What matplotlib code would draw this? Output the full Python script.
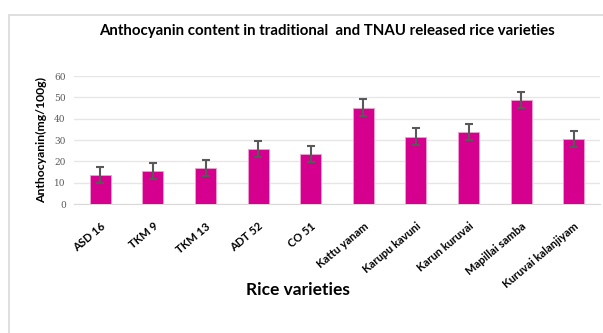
import matplotlib
matplotlib.use("Agg")
import matplotlib.pyplot as plt
from matplotlib.patches import Rectangle
import numpy as np

varieties = ["ASD 16", "TKM 9", "TKM 13", "ADT 52", "CO 51", "Kattu yanam",
             "Karupu kavuni", "Karun kuruvai", "Mapillai samba", "Kuruvai kalanjiyam"]
anthocyanin = [13.7, 15.6, 16.8, 25.8, 23.5, 45.2, 31.6, 33.6, 48.7, 30.5]
errors = [3.7, 3.7, 3.7, 3.7, 3.7, 3.8, 3.8, 3.8, 3.7, 3.8]
y_ticks = [0, 10, 20, 30, 40, 50, 60]

plt.rcParams["font.family"] = ["Lato", "DejaVu Sans"]

fig = plt.figure(figsize=(6.03, 3.33), dpi=100)
fig.patch.set_facecolor("white")

# light chart border, running off the right/bottom edges
fig.patches.append(Rectangle((9 / 603, -0.1), 1.2, 1 - 15 / 333 + 0.1,
                             transform=fig.transFigure, fill=False,
                             edgecolor="#d9d9d9", linewidth=1.2))

ax = fig.add_axes([74 / 603, 1 - 204 / 333, (600 - 74) / 603, (204 - 76) / 333])
x = np.arange(len(varieties))
ax.bar(x, anthocyanin, width=0.4, color="#d6008f", edgecolor="#f0a0d0",
       linewidth=0.6, zorder=3)
ax.errorbar(x, anthocyanin, yerr=errors, fmt="none", ecolor="#595959",
            elinewidth=1.5, capsize=3, capthick=1.5, zorder=4)

ax.set_xlim(-0.5, len(varieties) - 0.5)
ax.set_ylim(0, 60)
ax.set_yticks(y_ticks)
ax.set_yticklabels([str(t) for t in y_ticks], family="DejaVu Serif",
                   fontsize=6.5, color="#595959")
ax.yaxis.grid(True, color="#e6e6e6", linewidth=1, zorder=0)
ax.tick_params(axis="both", length=0, pad=6)
for s in ["top", "right", "left"]:
    ax.spines[s].set_visible(False)
ax.spines["bottom"].set_color("#d9d9d9")

ax.set_xticks(x)
ax.set_xticklabels(varieties, rotation=40, ha="right", rotation_mode="anchor",
                   fontsize=8, fontweight="bold")
ax.tick_params(axis="x", pad=12)

ax.set_ylabel("Anthocyanin(mg/100g)", fontsize=8.8, fontweight="bold", labelpad=5)
fig.text(0.543, 1 - 31 / 333, "Anthocyanin content in traditional  and TNAU released rice varieties",
         ha="center", va="center", fontsize=10.8, fontweight="bold")
fig.text(298 / 603, 1 - 290 / 333, "Rice varieties", ha="center", va="center",
         fontsize=12.5, fontweight="bold")

fig.savefig("out.png", dpi=100)
